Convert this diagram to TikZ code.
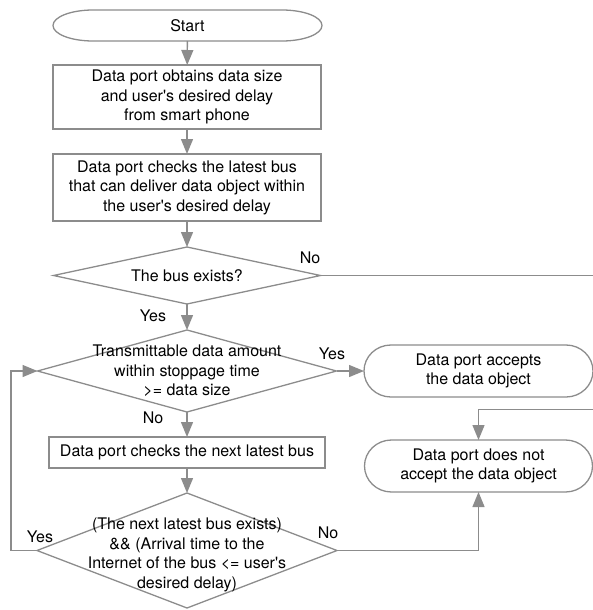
\documentclass[tikz,border=0pt]{standalone}
\usepackage{fontspec}
\setmainfont{TeX Gyre Heros}
\usetikzlibrary{arrows.meta,shapes.geometric}
\definecolor{lc}{RGB}{140,140,140}
\newcommand\termshape[3]{%
  \draw[ln] ([xshift=#2]#1.north west) -- ([xshift=-#2]#1.north east)
    arc[start angle=90,end angle=-90,x radius=#2,y radius=#3]
    -- ([xshift=#2]#1.south west)
    arc[start angle=270,end angle=90,x radius=#2,y radius=#3] -- cycle;}
\newcommand\aq{\textquotesingle}
\begin{document}
\begin{tikzpicture}[x=1pt,y=1pt,
  ln/.style={draw=lc,line width=1.3pt},
  arr/.style={ln,-{Triangle[length=15pt,width=12pt]}},
  txt/.style={font=\fontsize{16}{19.5}\selectfont,align=center,text=black},
  boxnode/.style={txt,draw=lc,line width=1.3pt,inner sep=0pt,outer sep=0pt},
  termnode/.style={txt,inner sep=0pt,outer sep=0pt},
  dia/.style={diamond,draw=lc,line width=1.3pt,inner sep=0pt,outer sep=0pt},
  lbl/.style={font=\fontsize{16}{19.5}\selectfont,text=black,inner sep=0pt}]
\useasboundingbox (0,0) rectangle (593,-610);
% nodes
\node[termnode,minimum width=269pt,minimum height=31pt] (start) at (187.5,-25.5) {Start};
\termshape{start}{40pt}{15.5pt}
\node[boxnode,minimum width=268pt,minimum height=64pt] (b1) at (187,-97) {Data port obtains data size\\and user\aq{}s desired delay\\from smart phone};
\node[boxnode,minimum width=268pt,minimum height=67pt] (b2) at (187,-187.5) {Data port checks the latest bus\\that can deliver data object within\\the user\aq{}s desired delay};
\node[dia,minimum width=267pt,minimum height=57pt] (d1) at (187,-275.5) {};
\node[txt] (t1) at (187,-276) {The bus exists?};
\node[dia,minimum width=299pt,minimum height=82pt] (d2) at (187,-371) {};
\node[txt] (t2) at (187,-371) {Transmittable data amount\\within stoppage time\\>= data size};
\node[termnode,minimum width=229pt,minimum height=52pt] (acc) at (478.5,-371) {Data port accepts\\the data object};
\termshape{acc}{27pt}{26pt}
\node[boxnode,minimum width=276pt,minimum height=31pt] (b3) at (187,-452.5) {Data port checks the next latest bus};
\node[dia,minimum width=300pt,minimum height=115pt] (d3) at (187,-550.5) {};
\node[txt] (t3) at (187,-555) {(The next latest bus exists)\\\&\& (Arrival time to the\\Internet of the bus <= user\aq{}s\\desired delay)};
\node[termnode,minimum width=228pt,minimum height=52pt] (rej) at (478.5,-466) {Data port does not\\accept the data object};
\termshape{rej}{27pt}{26pt}
% coordinates
\coordinate (r1) at (606,-275.5);
\coordinate (r2) at (606,-409.5);
\coordinate (lp) at (11,-550.5);
% connectors
\draw[arr] (start) -- (b1);
\draw[arr] (b1) -- (b2);
\draw[arr] (b2) -- (d1.north);
\draw[arr] (d1.south) -- (d2.north);
\draw[arr] (d1.east) -- (r1) -- (r2) -| (rej.north);
\draw[arr] (d2.east) -- (acc.west);
\draw[arr] (d2.south) -- (b3.north);
\draw[arr] (b3.south) -- (d3.north);
\draw[arr] (d3.west) -- (lp) |- (d2.west);
\draw[arr] (d3.east) -| (rej.south);
% labels
\node[lbl] (l1) at (310,-258) {No};
\node[lbl] (l2) at (153,-316) {Yes};
\node[lbl] (l3) at (332,-354) {Yes};
\node[lbl] (l4) at (153,-418) {No};
\node[lbl] (l5) at (40,-537) {Yes};
\node[lbl] (l6) at (328,-533) {No};
\end{tikzpicture}
\end{document}
